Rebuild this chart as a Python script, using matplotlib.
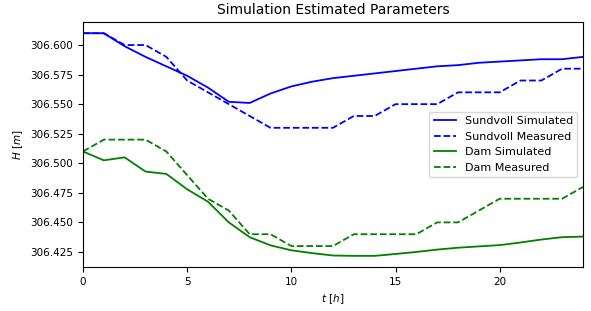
import numpy as np
import matplotlib
matplotlib.use('Agg')
import matplotlib.pyplot as plt

# Hours
t = np.arange(0, 25)

# Water level, Sundvoll
sundvoll_sim = [306.610, 306.610, 306.599, 306.590, 306.582, 306.574, 306.564, 306.552,
                306.551, 306.559, 306.565, 306.569, 306.572, 306.574, 306.576, 306.578,
                306.580, 306.582, 306.583, 306.585, 306.586, 306.587, 306.588, 306.588,
                306.590]
sundvoll_meas = [306.61, 306.61, 306.60, 306.60, 306.59, 306.57, 306.56, 306.55,
                 306.54, 306.53, 306.53, 306.53, 306.53, 306.54, 306.54, 306.55,
                 306.55, 306.55, 306.56, 306.56, 306.56, 306.57, 306.57, 306.58,
                 306.58]

# Water level, dam
dam_sim = [306.510, 306.5025, 306.505, 306.493, 306.491, 306.478, 306.4675, 306.450,
           306.4375, 306.4306, 306.4264, 306.424, 306.422, 306.4217, 306.4217, 306.4233,
           306.425, 306.427, 306.4286, 306.4297, 306.4308, 306.433, 306.4355, 306.4375,
           306.438]
dam_meas = [306.51, 306.52, 306.52, 306.52, 306.51, 306.49, 306.47, 306.46,
            306.44, 306.44, 306.43, 306.43, 306.43, 306.44, 306.44, 306.44,
            306.44, 306.45, 306.45, 306.46, 306.47, 306.47, 306.47, 306.47,
            306.48]

plt.rcParams['font.size'] = 7.5
fig, ax = plt.subplots(figsize=(5.91, 3.11), dpi=100)
fig.subplots_adjust(left=0.1404, right=0.9865, top=0.929, bottom=0.1415)

ax.plot(t, sundvoll_sim, '-', color='blue', lw=1.3, label='Sundvoll Simulated')
ax.plot(t, sundvoll_meas, '--', color='blue', lw=1.3, label='Sundvoll Measured')
ax.plot(t, dam_sim, '-', color='green', lw=1.3, label='Dam Simulated')
ax.plot(t, dam_meas, '--', color='green', lw=1.3, label='Dam Measured')

ax.set_xlim(0, 24)
ax.yaxis.set_major_formatter(matplotlib.ticker.FormatStrFormatter('%.3f'))
ax.set_title('Simulation Estimated Parameters', fontsize=10)
ax.set_xlabel('$t\\ [h]$')
ax.set_ylabel('$H\\ [m]$')
ax.legend(loc='center right', fontsize=8)

fig.savefig('out.png', dpi=100)
